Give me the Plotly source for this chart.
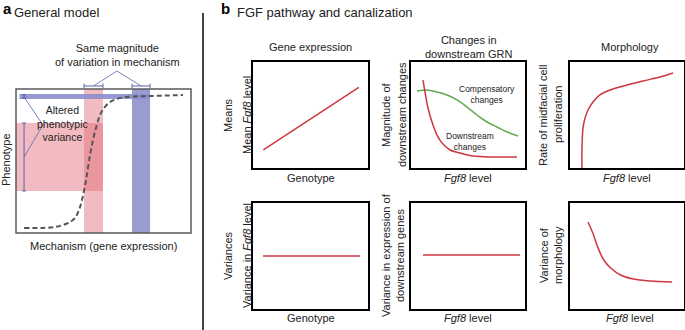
import plotly.graph_objects as go

W, H = 685, 330

# ---------------- Panel a data (arbitrary units 0-10) ----------------
mech_x = [0.46, 1.54, 2.23, 2.69, 3.09, 3.37, 3.60, 3.77, 4.00, 4.23, 4.40, 4.57,
          4.80, 5.03, 5.37, 5.77, 6.23, 6.69, 7.66, 9.54]
pheno_y = [0.35, 0.35, 0.42, 0.56, 0.76, 1.04, 1.60, 2.29, 3.68, 5.42, 6.46, 7.29,
           8.19, 8.68, 9.10, 9.31, 9.44, 9.48, 9.51, 9.58]
pink_mech = [3.89, 4.97]      # mechanism range (pink column)
blue_mech = [6.63, 7.66]      # mechanism range (blue column)
pink_pheno = [2.92, 7.64]     # phenotype range (pink band)
blue_pheno = [9.31, 9.65]     # phenotype range (blue band)

# ---------------- Panel b data (arbitrary units 0-10) ----------------
geno_mean_x = [0.9, 9.2]
mean_fgf8 = [1.7, 7.6]

fgf8_down = [1.05, 1.23, 1.49, 1.93, 2.37, 2.81, 3.42, 4.30, 5.44, 7.19, 9.30]
downstream = [8.30, 7.17, 5.66, 4.06, 2.92, 2.26, 1.70, 1.42, 1.13, 1.04, 1.04]

fgf8_comp = [0.53, 1.40, 2.28, 3.16, 4.04, 4.91, 5.79, 6.67, 7.54, 8.42, 9.39]
compensatory = [7.26, 7.36, 7.17, 6.89, 6.42, 5.75, 5.00, 4.34, 3.87, 3.40, 3.02]

fgf8_prolif = [1.05, 1.05, 1.14, 1.32, 1.58, 2.02, 2.63, 3.51, 5.00, 6.40, 7.89, 9.04]
proliferation = [0.0, 1.89, 3.77, 4.72, 5.47, 6.23, 6.89, 7.36, 7.83, 8.21, 8.58, 8.96]

geno_var_x = [0.87, 9.3]
var_fgf8 = [5.0, 5.0]

fgf8_var_x = [1.05, 9.56]
var_downstream = [5.1, 5.1]

fgf8_morph = [1.57, 2.00, 2.43, 2.96, 3.57, 4.43, 5.57, 7.04, 8.96]
var_morph = [8.21, 7.17, 5.85, 4.62, 3.87, 3.21, 2.83, 2.64, 2.55]

RED = "#cf3640"
GREEN = "#62a94f"
BLUE = "#9a9bd0"
BRK = "#5b62a8"
FONT = "Liberation Sans, Arial, Helvetica, sans-serif"
TXT = "#222222"


def PX(x):
    return x / W


def PY(y):
    return 1 - y / H


fig = go.Figure()

# ---------------- Panel a axes ----------------
# box: px x 16..191 (0..10), px y 233..89 (0..10)
ax_pad = 0.3
sx, sy = 17.5, 14.4
fig.update_layout(
    xaxis=dict(domain=[PX(16 - ax_pad * sx), PX(191 + ax_pad * sx)],
               range=[-ax_pad, 10 + ax_pad], visible=False),
    yaxis=dict(domain=[PY(233 + ax_pad * sy), PY(60)],
               range=[-ax_pad, (233 - 60) / sy], visible=False),
)

shapes = []
# pink column and band
shapes.append(dict(type="rect", xref="x", yref="y", x0=pink_mech[0], x1=pink_mech[1],
                   y0=0, y1=10, fillcolor="rgba(226,105,118,0.45)", line_width=0, layer="below"))
shapes.append(dict(type="rect", xref="x", yref="y", x0=0, x1=pink_mech[1],
                   y0=pink_pheno[0], y1=pink_pheno[1], fillcolor="rgba(226,105,118,0.45)",
                   line_width=0, layer="below"))
# blue column and band
shapes.append(dict(type="rect", xref="x", yref="y", x0=blue_mech[0], x1=blue_mech[1],
                   y0=0, y1=10, fillcolor=BLUE, line_width=0, layer="below"))
shapes.append(dict(type="rect", xref="x", yref="y", x0=0.2, x1=blue_mech[1],
                   y0=blue_pheno[0], y1=blue_pheno[1], fillcolor="rgba(140,142,205,0.9)",
                   line_width=0, layer="below"))
# frame
shapes.append(dict(type="rect", xref="x", yref="y", x0=0, x1=10, y0=0, y1=10,
                   line=dict(color="#5a5a5a", width=1.5)))

# brackets above columns
by = 10.21
tk = 0.16
for lo, hi in (pink_mech, blue_mech):
    shapes.append(dict(type="line", xref="x", yref="y", x0=lo, x1=hi, y0=by, y1=by,
                       line=dict(color=BRK, width=1)))
    for xx in (lo, hi):
        shapes.append(dict(type="line", xref="x", yref="y", x0=xx, x1=xx, y0=by - tk, y1=by + tk,
                           line=dict(color=BRK, width=1)))
    shapes.append(dict(type="line", xref="x", yref="y", x0=5.77, y0=11.25,
                       x1=(lo + hi) / 2, y1=by, line=dict(color=BRK, width=0.8)))

# left brackets for phenotype ranges
bx = 0.46
tkx = 0.12
for lo, hi in (pink_pheno, [blue_pheno[0] + 0.05, blue_pheno[1] - 0.05]):
    shapes.append(dict(type="line", xref="x", yref="y", x0=bx, x1=bx, y0=lo, y1=hi,
                       line=dict(color=BRK, width=1)))
    for yy in (lo, hi):
        shapes.append(dict(type="line", xref="x", yref="y", x0=bx - tkx, x1=bx + tkx, y0=yy, y1=yy,
                           line=dict(color=BRK, width=1)))
shapes.append(dict(type="line", xref="x", yref="y", x0=bx, y0=9.44, x1=1.54, y1=7.5,
                   line=dict(color=BRK, width=0.8)))
shapes.append(dict(type="line", xref="x", yref="y", x0=bx, y0=5.28, x1=1.54, y1=7.5,
                   line=dict(color=BRK, width=0.8)))

# divider
shapes.append(dict(type="line", xref="paper", yref="paper", x0=PX(203), x1=PX(203),
                   y0=PY(13), y1=0, line=dict(color="#444444", width=2)))

fig.add_trace(go.Scatter(x=mech_x, y=pheno_y, mode="lines", line_shape="spline",
                         line=dict(color="#555555", width=2, dash="5px,3px"),
                         xaxis="x", yaxis="y", showlegend=False, hoverinfo="skip"))

# ---------------- Panel b axes ----------------
cols = [(253, 368), (411, 525), (570, 684)]
rows = [(62, 168), (203, 309)]
k = 2
axis_ids = {}
for r, (top, bot) in enumerate(rows):
    for c, (left, right) in enumerate(cols):
        ax = dict(domain=[PX(left), PX(right)], range=[0, 10], showline=True, mirror=True,
                  linecolor="black", linewidth=1.5, showgrid=False, zeroline=False,
                  showticklabels=False, ticks="")
        ay = dict(domain=[PY(bot), PY(top)], range=[0, 10], showline=True, mirror=True,
                  linecolor="black", linewidth=1.5, showgrid=False, zeroline=False,
                  showticklabels=False, ticks="")
        fig.update_layout(**{f"xaxis{k}": dict(ax, anchor=f"y{k}"),
                             f"yaxis{k}": dict(ay, anchor=f"x{k}")})
        axis_ids[(r, c)] = k
        k += 1


def add_line(xs, ys, rc, color, spline=True):
    n = axis_ids[rc]
    fig.add_trace(go.Scatter(x=xs, y=ys, mode="lines",
                             line_shape="spline" if spline else "linear",
                             line=dict(color=color, width=1.5),
                             xaxis=f"x{n}", yaxis=f"y{n}", showlegend=False, hoverinfo="skip"))


add_line(geno_mean_x, mean_fgf8, (0, 0), RED, spline=False)
add_line(fgf8_comp, compensatory, (0, 1), GREEN)
add_line(fgf8_down, downstream, (0, 1), RED)
add_line(fgf8_prolif, proliferation, (0, 2), RED)
add_line(geno_var_x, var_fgf8, (1, 0), RED, spline=False)
add_line(fgf8_var_x, var_downstream, (1, 1), RED, spline=False)
add_line(fgf8_morph, var_morph, (1, 2), RED)

# ---------------- Text ----------------
ann = []


def T(text, x, y, size=11, angle=0, xanchor="center", color=TXT):
    ann.append(dict(text=text, x=PX(x), y=PY(y), xref="paper", yref="paper", showarrow=False,
                    xanchor=xanchor, yanchor="middle", textangle=angle,
                    font=dict(family=FONT, size=size, color=color)))


T("<b>a</b>", 1, 9, size=15, xanchor="left", color="black")
T("General model", 12, 12, size=13, xanchor="left")
T("Same magnitude<br>of variation in mechanism", 117, 55, size=11)
T("Altered<br>phenotypic<br>variance", 63, 124, size=10.5)
T("Phenotype", 6, 160, size=11, angle=-90)
T("Mechanism (gene expression)", 103, 246, size=11)

T("<b>b</b>", 219, 8, size=15, xanchor="left", color="black")
T("FGF pathway and canalization", 235, 12, size=13, xanchor="left")
T("Gene expression", 310, 47)
T("Changes in<br>downstream GRN", 468, 47)
T("Morphology", 630, 47)

T("Means", 228, 115, angle=-90)
T("Mean <i>Fgf8</i> level", 247, 115, angle=-90)
T("Magnitude of", 386, 115, angle=-90)
T("downstream changes", 402, 115, angle=-90)
T("Rate of midfacial cell", 543, 115, angle=-90)
T("proliferation", 558, 115, angle=-90)

T("Genotype", 311, 178)
T("<i>Fgf8</i> level", 468, 178)
T("<i>Fgf8</i> level", 627, 178)

T("Compensatory<br>changes", 487, 95, size=8.5)
T("Downstream<br>changes", 470, 141.5, size=8.5)

T("Variances", 228, 256, angle=-90)
T("Variance in <i>Fgf8</i> level", 247, 256, angle=-90)
T("Variance in expression of", 386, 255, angle=-90)
T("downstream genes", 400, 255, angle=-90)
T("Variance of", 544, 255, angle=-90)
T("morphology", 558, 255, angle=-90)

T("Genotype", 311, 318)
T("<i>Fgf8</i> level", 468, 318)
T("<i>Fgf8</i> level", 630, 318)

fig.update_layout(width=W, height=H, margin=dict(l=0, r=0, t=0, b=0),
                  paper_bgcolor="white", plot_bgcolor="white",
                  shapes=shapes, annotations=ann, showlegend=False,
                  font=dict(family=FONT, color=TXT))

fig.write_html("out.html", config={"displayModeBar": False},
               post_script="document.body.style.margin='0';document.body.style.overflow='hidden';")
